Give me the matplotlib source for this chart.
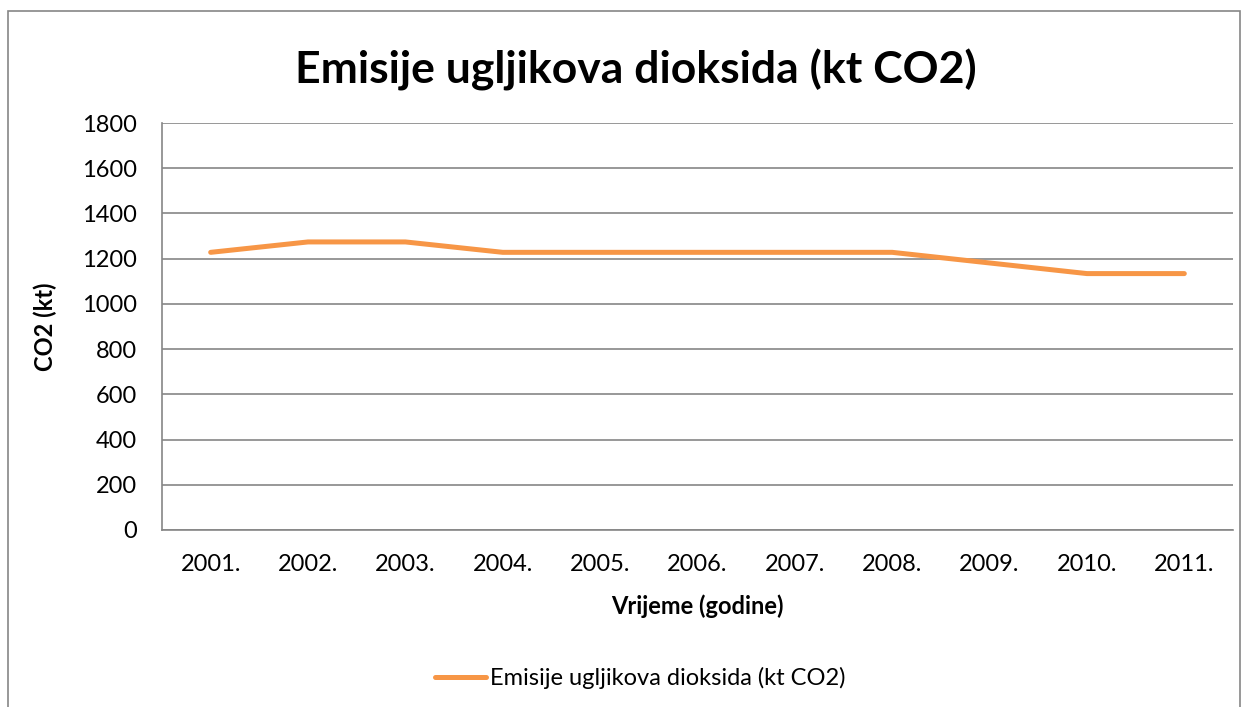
import matplotlib
matplotlib.use("Agg")
import matplotlib.pyplot as plt
from matplotlib.patches import Rectangle
from matplotlib.lines import Line2D

years = ["2001.", "2002.", "2003.", "2004.", "2005.", "2006.", "2007.", "2008.", "2009.", "2010.", "2011."]
emissions = [1228, 1274, 1274, 1228, 1228, 1228, 1228, 1228, 1181, 1134, 1134]
yticks = [0, 200, 400, 600, 800, 1000, 1200, 1400, 1600, 1800]

title = "Emisije ugljikova dioksida (kt CO2)"
series_name = "Emisije ugljikova dioksida (kt CO2)"

plt.rcParams['font.family'] = ['Lato', 'DejaVu Sans']

W, H = 1250, 707
fig = plt.figure(figsize=(W/100, H/100), dpi=100)
ax = fig.add_axes([162/W, 1 - 530/H, (1233-162)/W, (530-123)/H])

line_color = "#F79646"
grid_color = "#868686"

x = list(range(len(years)))
ax.plot(x, emissions, color=line_color, lw=3.6, solid_capstyle='round', solid_joinstyle='round', zorder=3)

ax.set_xlim(-0.5, len(years) - 0.5)
ax.set_ylim(0, 1800)
ax.set_yticks(yticks)
ax.set_yticklabels([str(v) for v in yticks], fontsize=17)
ax.set_xticks(x)
ax.set_xticklabels(years, fontsize=17)
ax.tick_params(axis='y', length=0, pad=18)
ax.tick_params(axis='x', length=0, pad=17)
ax.yaxis.grid(True, color=grid_color, lw=1.2)
ax.set_axisbelow(True)
for s in ['top', 'right']:
    ax.spines[s].set_visible(False)
for s in ['left', 'bottom']:
    ax.spines[s].set_color(grid_color)
    ax.spines[s].set_linewidth(1.2)

ax.set_xlabel("Vrijeme (godine)", fontsize=17, fontweight='bold', labelpad=14)
ax.set_ylabel("CO2 (kt)", fontsize=17, fontweight='bold', labelpad=18)

fig.text(636/W, 1 - 70/H, title, fontsize=32, fontweight='bold', ha='center', va='center')

# legend
handle = Line2D([], [], color=line_color, lw=3.6, solid_capstyle='round')
fig.legend([handle], [series_name], loc='center', bbox_to_anchor=(640/W, 1 - 678/H),
           frameon=False, fontsize=17, handlelength=2.2, handletextpad=0.15)

# outer chart border
fig.patches.append(Rectangle((8/W, -0.05), (1240-8)/W, 1.05 - 11/H, transform=fig.transFigure,
                             fill=False, edgecolor=grid_color, lw=1.2))

fig.savefig("out.png", dpi=100)
